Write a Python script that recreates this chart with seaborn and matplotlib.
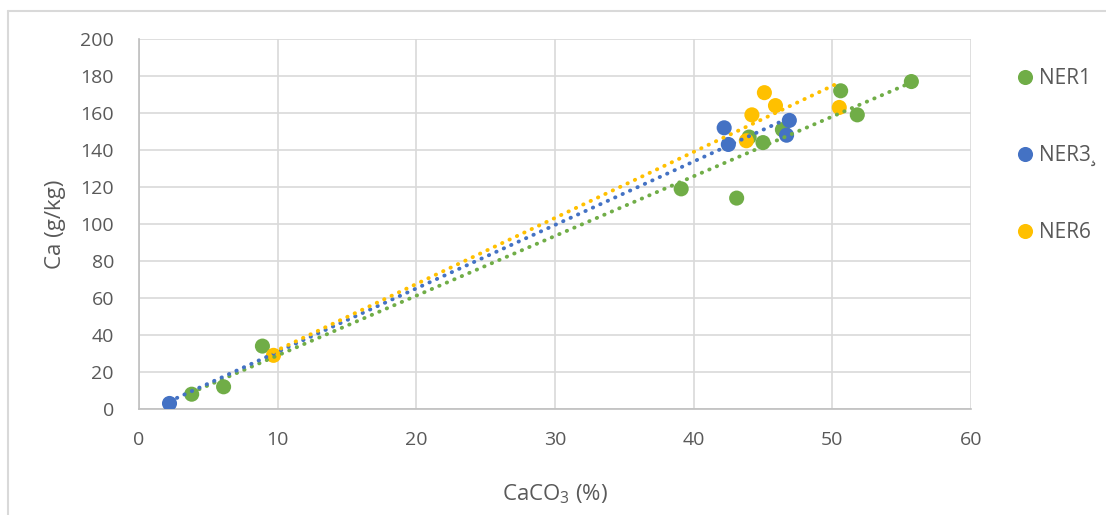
import numpy as np
import pandas as pd
import matplotlib
matplotlib.use("Agg")
import matplotlib.pyplot as plt
from matplotlib.lines import Line2D
import seaborn as sns

# values
ner1_x = [3.8, 6.1, 8.9, 39.1, 43.1, 44.0, 45.0, 46.4, 50.6, 51.8, 55.7]
ner1_y = [8, 12, 34, 119, 114, 147, 144, 151, 172, 159, 177]
ner3_x = [2.2, 42.2, 42.5, 46.9, 46.7]
ner3_y = [3, 152, 143, 156, 148]
ner6_x = [9.7, 43.8, 44.2, 45.1, 45.9, 50.5]
ner6_y = [29, 145, 159, 171, 164, 163]

series = ["NER1", "NER3¸", "NER6"]
colors = ["#70AD47", "#4472C4", "#FFC000"]

df = pd.concat([
    pd.DataFrame({"x": ner1_x, "y": ner1_y, "serie": series[0]}),
    pd.DataFrame({"x": ner3_x, "y": ner3_y, "serie": series[1]}),
    pd.DataFrame({"x": ner6_x, "y": ner6_y, "serie": series[2]}),
])

sns.set_theme(style="white")
plt.rcParams["font.family"] = ["Open Sans", "DejaVu Sans"]
plt.rcParams["mathtext.fontset"] = "custom"
plt.rcParams["mathtext.rm"] = "Open Sans"
plt.rcParams["mathtext.it"] = "Open Sans"

grey = "#595959"
W, H = 1106, 515
fig = plt.figure(figsize=(W / 100, H / 100), dpi=100)
ax = fig.add_axes([139 / W, 1 - 409 / H, 832 / W, 370 / H])

palette = dict(zip(series, colors))
sns.scatterplot(data=df, x="x", y="y", hue="serie", palette=palette, s=118,
                edgecolor="none", ax=ax, zorder=3)

# linear trendlines (dotted), drawn over the markers
for name, col in zip(series, colors):
    sub = df[df["serie"] == name]
    sns.regplot(data=sub, x="x", y="y", scatter=False, ci=None, truncate=True, ax=ax,
                line_kws=dict(color=col, lw=2.8, linestyle=(0, (0.1, 2.0)),
                              dash_capstyle="round", zorder=4))

ax.set_xlim(0, 60)
ax.set_ylim(0, 200)
ax.set_xticks(range(0, 61, 10))
ax.set_yticks(range(0, 201, 20))
ax.grid(True, color="#D9D9D9", lw=1.2)
ax.set_axisbelow(True)
for s in ["top", "right"]:
    ax.spines[s].set_visible(False)
for s in ["left", "bottom"]:
    ax.spines[s].set_color("#BFBFBF")
    ax.spines[s].set_linewidth(1.2)
ax.tick_params(colors=grey, labelsize=14, length=0)
ax.tick_params(axis="y", pad=18)
ax.tick_params(axis="x", pad=16)

ax.set_xlabel(r"CaCO${}_3$ (%)", fontsize=16, color=grey, labelpad=24)
ax.set_ylabel("Ca (g/kg)", fontsize=16, color=grey, labelpad=10)

handles, labels = ax.get_legend_handles_labels()
if ax.get_legend():
    ax.get_legend().remove()
leg = fig.legend(handles, labels, loc="upper left",
                 bbox_to_anchor=(1006 / W, 1 - 58 / H), frameon=False,
                 borderpad=0, labelspacing=2.68, handlelength=0.8,
                 handletextpad=0.3, fontsize=15, markerscale=1.0)
for t in leg.get_texts():
    t.set_color(grey)

# chart border (top and left edges visible in the crop)
fig.add_artist(Line2D([8 / W, 1], [1 - 11 / H, 1 - 11 / H], transform=fig.transFigure,
                      color="#D9D9D9", lw=1.5))
fig.add_artist(Line2D([8 / W, 8 / W], [0, 1 - 11 / H], transform=fig.transFigure,
                      color="#D9D9D9", lw=1.5))

plt.savefig("out.png", dpi=100)
